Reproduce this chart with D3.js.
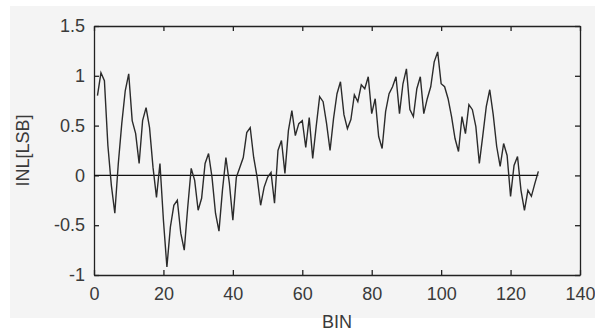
<!DOCTYPE html>
<html>
<head>
<meta charset="utf-8">
<script src="https://cdn.jsdelivr.net/npm/d3@7"></script>
<style>
  body { margin: 0; background: #fff; }
  .axis text { font-family: 'Liberation Sans', Arial, sans-serif; font-size: 18px; fill: #3a3a3a; }
  .axis path, .axis line { stroke: #222; stroke-width: 1.3; }
  .label { font-family: 'Liberation Sans', Arial, sans-serif; font-size: 18px; fill: #3a3a3a; }
</style>
</head>
<body>
<div id="chart"></div>
<script>
// INL per code bin
const inl = [
  0.80, 1.03, 0.95, 0.30, -0.10, -0.38, 0.12, 0.52, 0.85, 1.02,
  0.55, 0.42, 0.12, 0.55, 0.68, 0.48, 0.08, -0.22, 0.12, -0.45,
  -0.92, -0.52, -0.30, -0.25, -0.58, -0.75, -0.32, 0.07, -0.05, -0.35,
  -0.23, 0.12, 0.22, -0.02, -0.38, -0.56, -0.15, 0.18, -0.08, -0.45,
  -0.02, 0.08, 0.18, 0.43, 0.48, 0.18, -0.02, -0.30, -0.12, -0.02,
  0.03, -0.28, 0.25, 0.35, 0.02, 0.45, 0.65, 0.40, 0.52, 0.55,
  0.28, 0.58, 0.17, 0.49, 0.79, 0.74, 0.52, 0.25, 0.57, 0.82,
  0.94, 0.61, 0.47, 0.56, 0.81, 0.74, 0.91, 0.87, 0.99, 0.62,
  0.77, 0.39, 0.27, 0.64, 0.82, 0.89, 0.99, 0.62, 0.92, 1.07,
  0.66, 0.59, 0.87, 0.99, 0.62, 0.77, 0.89, 1.14, 1.24, 0.92,
  0.89, 0.77, 0.59, 0.37, 0.24, 0.59, 0.42, 0.71, 0.66, 0.49,
  0.12, 0.40, 0.69, 0.86, 0.61, 0.29, 0.09, 0.32, 0.20, -0.21,
  0.10, 0.19, -0.15, -0.35, -0.15, -0.21, -0.08, 0.04
]
const bins = d3.range(1, inl.length + 1)
const xTicks = [0, 20, 40, 60, 80, 100, 120, 140]
const yTicks = [-1, -0.5, 0, 0.5, 1, 1.5]
const xLabel = 'BIN'
const yLabel = 'INL[LSB]'

const width = 595
const height = 334
const margin = {top: 26, right: 15, bottom: 59, left: 94}
const w = width - margin.left - margin.right
const h = height - margin.top - margin.bottom

const x = d3.scaleLinear().domain([0, 140]).range([0, w])
const y = d3.scaleLinear().domain([-1, 1.5]).range([h, 0])

const svg = d3.select('#chart').append('svg')
    .attr('width', width)
    .attr('height', height)

// grey figure background
svg.append('rect')
    .attr('x', 10).attr('y', 6)
    .attr('width', width - 10).attr('height', 312)
    .attr('fill', '#f4f4f4')

const g = svg.append('g')
    .attr('transform', 'translate(' + margin.left + ',' + margin.top + ')')

g.append('g').attr('class', 'x axis')
    .attr('transform', 'translate(0,' + h + ')')
    .call(d3.axisBottom(x).tickValues(xTicks).tickSize(-5).tickSizeOuter(0).tickPadding(12).tickFormat(d => String(d)))
g.append('g').attr('class', 'x axis')
    .call(d3.axisTop(x).tickValues(xTicks).tickSize(-5).tickSizeOuter(0).tickFormat(''))
g.append('g').attr('class', 'y axis')
    .call(d3.axisLeft(y).tickValues(yTicks).tickSize(-5).tickSizeOuter(0).tickPadding(9).tickFormat(d => String(d)))
g.append('g').attr('class', 'y axis')
    .attr('transform', 'translate(' + w + ',0)')
    .call(d3.axisRight(y).tickValues(yTicks).tickSize(-5).tickSizeOuter(0).tickFormat(''))

// zero reference line over the code range
g.append('line')
    .attr('x1', x(0)).attr('x2', x(bins[bins.length - 1]))
    .attr('y1', y(0)).attr('y2', y(0))
    .attr('stroke', '#111')
    .attr('stroke-width', 1.4)

const line = d3.line()
    .x((d, i) => x(bins[i]))
    .y(d => y(d))

g.append('path')
    .datum(inl)
    .attr('d', line)
    .attr('fill', 'none')
    .attr('stroke', '#2b2b2b')
    .attr('stroke-width', 1.4)

svg.append('text')
    .attr('class', 'label')
    .attr('x', margin.left + w / 2)
    .attr('y', 328)
    .attr('text-anchor', 'middle')
    .text(xLabel)

svg.append('text')
    .attr('class', 'label')
    .attr('transform', 'translate(29,' + (margin.top + h / 2) + ')rotate(-90)')
    .attr('text-anchor', 'middle')
    .text(yLabel)
</script>
</body>
</html>
